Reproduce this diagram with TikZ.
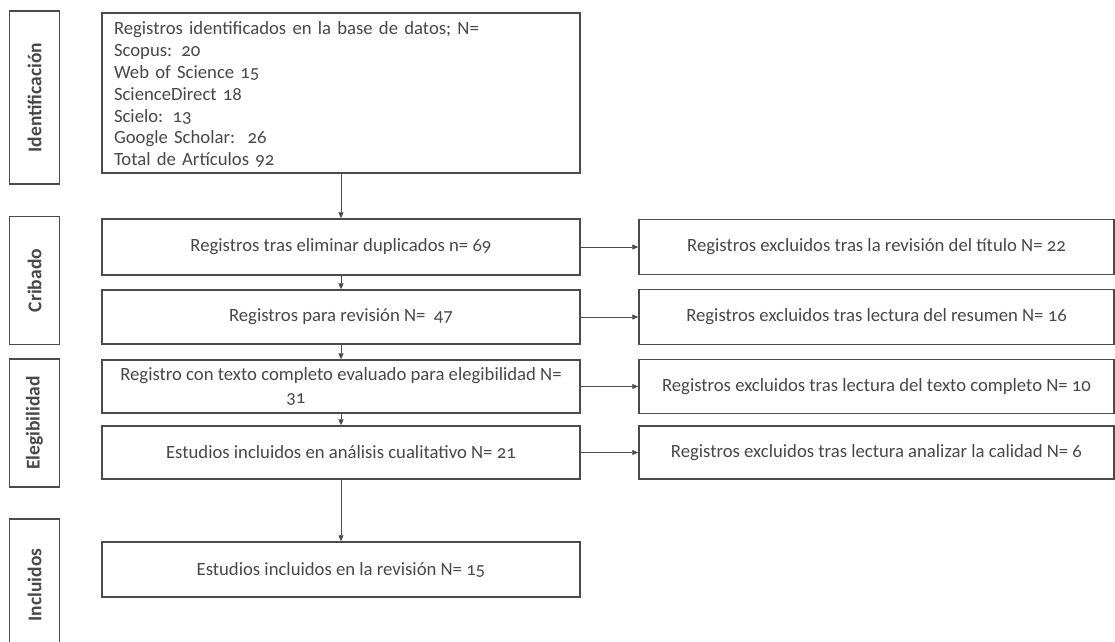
\documentclass[tikz,border=0pt]{standalone}
\usepackage{fontspec}
\setmainfont{Carlito}[Numbers=OldStyle]
\usetikzlibrary{arrows.meta}
\definecolor{txtc}{RGB}{72,72,72}
\definecolor{linec}{RGB}{75,75,75}
\tikzset{
  box/.style={draw=linec, line width=1.5pt, rectangle, text=txtc, align=center, inner sep=4pt,
    font=\fontsize{18.7}{23.2}\selectfont},
  mainbox/.style={box, minimum width=478pt},
  rightbox/.style={box, minimum width=475pt},
  stagebox/.style={draw=linec, line width=1.5pt, rectangle, minimum width=50pt, text=txtc},
  stagetext/.style={text=txtc, rotate=90, font=\fontsize{19.5}{22}\selectfont\bfseries},
  arr/.style={draw=linec, line width=0.9pt, -{Triangle[length=6pt,width=5pt]}}
}
\begin{document}
\begin{tikzpicture}[x=1pt,y=-1pt]
\useasboundingbox (0,0) rectangle (1115,641);
\clip (0,0) rectangle (1115,641);
\fill[white] (0,0) rectangle (1115,641);

% stage labels
\node[stagebox, minimum height=173pt] (s1) at (34.5,97.5) {};
\node[stagetext] (s1t) at (s1.center) {Identificación};
\node[stagebox, minimum height=128pt] (s2) at (34.5,280.5) {};
\node[stagetext] (s2t) at (s2.center) {Cribado};
\node[stagebox, minimum height=128pt] (s3) at (34.5,423) {};
\node[stagetext] (s3t) at (s3.center) {Elegibilidad};
\node[stagebox, minimum height=132pt] (s4) at (34.5,585) {};
\node[stagetext] (s4t) at (s4.center) {Incluidos};

% main column
\node[mainbox, minimum height=160pt, text width=454pt, align=left, inner sep=12pt, inner ysep=2pt,
  font=\fontsize{18.7}{21.9}\selectfont] (b1) at (341,93) {\rule{0pt}{16pt}Registros identificados en la base de datos; N=\\
Scopus: 20\\
Web of Science 15\\
ScienceDirect 18\\
Scielo: 13\\
Google Scholar:\ \ 26\\
Total de Artículos 92};
\node[mainbox, minimum height=56pt] (b2) at (341,247) {Registros tras eliminar duplicados n= 69};
\node[mainbox, minimum height=54pt] (b3) at (341,317) {Registros para revisión N=\ \ 47};
\node[mainbox, minimum height=53pt, align=left, inner ysep=1pt] (b4) at (341,386.5) {Registro con texto completo evaluado para elegibilidad N=\\\hspace*{166pt}31};
\node[mainbox, minimum height=53pt] (b5) at (341,452.5) {Estudios incluidos en análisis cualitativo N= 21};
\node[mainbox, minimum height=55pt] (b6) at (341,569.5) {Estudios incluidos en la revisión N= 15};

% right column
\node[rightbox, minimum height=55pt] (r1) at (876.5,247) {Registros excluidos tras la revisión del título N= 22};
\node[rightbox, minimum height=55pt] (r2) at (876.5,317) {Registros excluidos tras lectura del resumen N= 16};
\node[rightbox, minimum height=54pt] (r3) at (876.5,386.5) {Registros excluidos tras lectura del texto completo N= 10};
\node[rightbox, minimum height=53pt] (r4) at (876.5,452.5) {Registros excluidos tras lectura analizar la calidad N= 6};

% connectors
\draw[arr] (b1.south) -- (b2.north);
\draw[arr] (b2.south) -- (b3.north);
\draw[arr] (b3.south) -- (b4.north);
\draw[arr] (b4.south) -- (b5.north);
\draw[arr] (b5.south) -- (b6.north);
\draw[arr] (b2.east) -- (r1.west);
\draw[arr] (b3.east) -- (r2.west);
\draw[arr] (b4.east) -- (r3.west);
\draw[arr] (b5.east) -- (r4.west);
\end{tikzpicture}
\end{document}
